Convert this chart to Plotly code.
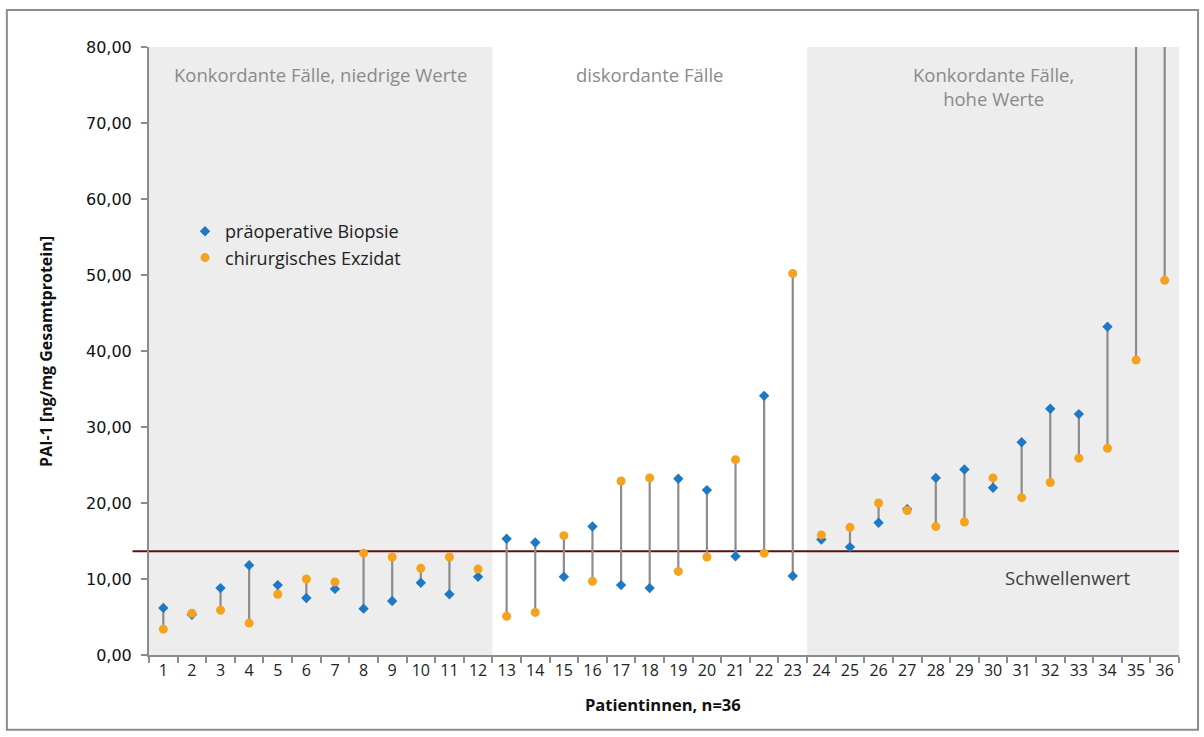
import plotly.graph_objects as go

# Patient numbers and PAI-1 measurements (ng/mg total protein)
patients = [str(i) for i in range(1, 37)]
biopsie = [6.2, 5.3, 8.8, 11.8, 9.2, 7.5, 8.7, 6.1, 7.1, 9.5, 8.0, 10.3,
           15.3, 14.8, 10.3, 16.9, 9.2, 8.8, 23.2, 21.7, 13.0, 34.1, 10.4,
           15.2, 14.2, 17.4, 19.2, 23.3, 24.4, 22.0, 28.0, 32.4, 31.7, 43.2,
           95.0, 110.0]
exzidat = [3.4, 5.5, 5.9, 4.2, 8.0, 10.0, 9.6, 13.4, 12.9, 11.4, 12.9, 11.3,
           5.1, 5.6, 15.7, 9.7, 22.9, 23.3, 11.0, 12.9, 25.7, 13.4, 50.2,
           15.8, 16.8, 20.0, 19.0, 16.9, 17.5, 23.3, 20.7, 22.7, 25.9, 27.2,
           38.8, 49.3]
THRESHOLD = 13.65

# Patient groups (first/last patient) and their captions
groups = [("1", "12", "Konkordante Fälle, niedrige Werte", True),
          ("13", "23", "diskordante Fälle", False),
          ("24", "36", "Konkordante Fälle,<br>hohe Werte", True)]

BLUE = "#1f78c4"
ORANGE = "#f5a21e"
GREY_TXT = "#8a8a8a"
FONT = "Open Sans"

fig = go.Figure()

# vertical connectors between the two measurements of each patient
cx, cy = [], []
for p, b, e in zip(patients, biopsie, exzidat):
    cx += [p, p, None]
    cy += [b, e, None]
fig.add_trace(go.Scatter(x=cx, y=cy, mode="lines",
                         line=dict(color="#8c8c8c", width=2.2),
                         showlegend=False, hoverinfo="skip"))

fig.add_trace(go.Scatter(x=patients, y=biopsie, mode="markers",
                         name="präoperative Biopsie",
                         marker=dict(symbol="diamond", size=8, color=BLUE)))
fig.add_trace(go.Scatter(x=patients, y=exzidat, mode="markers",
                         name="chirurgisches Exzidat",
                         marker=dict(symbol="circle", size=9, color=ORANGE)))

shapes = []
annotations = []
for first, last, label, shaded in groups:
    i0 = patients.index(first)
    i1 = patients.index(last)
    if shaded:
        shapes.append(dict(type="rect", xref="x", yref="paper",
                           x0=i0 - 0.5, x1=i1 + 0.5, y0=0, y1=1,
                           fillcolor="#ededed", line=dict(width=0),
                           layer="below"))
    annotations.append(dict(x=(i0 + i1) / 2, y=78.3, xref="x", yref="y",
                            text=label, showarrow=False, yanchor="top",
                            align="center",
                            font=dict(family=FONT, size=18.5, color=GREY_TXT)))

# threshold line
shapes.append(dict(type="line", xref="paper", yref="y", x0=-0.016, x1=1.0,
                   y0=THRESHOLD, y1=THRESHOLD,
                   line=dict(color="#581212", width=2), layer="below"))
# outer frame
shapes.append(dict(type="rect", xref="paper", yref="paper",
                   x0=-0.138, x1=1.0185, y0=-0.123, y1=1.061,
                   line=dict(color="#8c8c8c", width=2), layer="below"))

annotations.append(dict(x=patients.index("33") - 0.4, y=THRESHOLD - 3.5,
                        xref="x", yref="y", text="Schwellenwert",
                        showarrow=False,
                        font=dict(family=FONT, size=18.5, color="#404040")))
annotations.append(dict(x=-0.1127, y=0.5, xref="paper", yref="paper",
                        text="<b>PAI-1 [ng/mg Gesamtprotein]</b>",
                        textangle=-90, showarrow=False,
                        font=dict(family=FONT, size=16, color="#111111")))
annotations.append(dict(x=0.4995, y=-0.1036, xref="paper", yref="paper",
                        text="<b>Patientinnen, n=36</b>", showarrow=False,
                        font=dict(family=FONT, size=16.5, color="#111111")))

fig.update_layout(
    width=1204, height=737,
    margin=dict(l=149, r=25, t=47, b=82),
    paper_bgcolor="white", plot_bgcolor="white",
    separators=",.",
    shapes=shapes, annotations=annotations,
    legend=dict(x=0.035, y=0.727, xanchor="left", yanchor="top",
                bgcolor="rgba(0,0,0,0)", tracegroupgap=0, itemsizing="trace",
                font=dict(family=FONT, size=18, color="#222222")),
    xaxis=dict(type="category", categoryorder="array", categoryarray=patients,
               range=[-0.5, 35.5], tickson="boundaries", ticks="outside",
               ticklen=6, tickwidth=1.5, tickcolor="#8c8c8c", tickangle=0,
               showline=True, linecolor="#8c8c8c", linewidth=2,
               showgrid=False, zeroline=False,
               tickfont=dict(family=FONT, size=16, color="#222222")),
    yaxis=dict(range=[0, 80], dtick=10, tickformat=".2f", ticks="outside",
               ticklen=6, tickwidth=1.5, tickcolor="#8c8c8c",
               showline=True, linecolor="#8c8c8c", linewidth=2,
               showgrid=False, zeroline=False, ticklabelstandoff=6,
               tickfont=dict(family="DejaVu Sans", size=16, color="#111111")),
)

fig.write_html("out.html")
